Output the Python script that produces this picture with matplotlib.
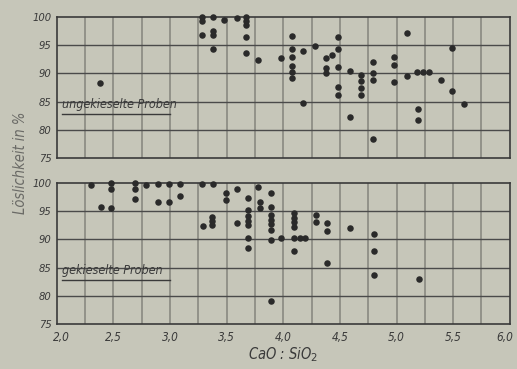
import matplotlib
matplotlib.use("Agg")
import matplotlib.pyplot as plt
import matplotlib.transforms as mtransforms

# ---- data: ungekieselte Proben (top panel) ----
top_x = [2.38, 3.28, 3.28, 3.28, 3.38, 3.38, 3.38, 3.38, 3.48, 3.59,
         3.67, 3.67, 3.67, 3.67, 3.67, 3.78, 3.98,
         4.08, 4.08, 4.08, 4.08, 4.08, 4.08, 4.17, 4.17, 4.28,
         4.48, 4.48, 4.43, 4.38, 4.38, 4.38, 4.48, 4.48, 4.48,
         4.59, 4.59, 4.69, 4.69, 4.69, 4.69, 4.79, 4.79, 4.79, 4.79,
         4.98, 4.98, 4.98, 5.09, 5.09, 5.18, 5.23, 5.29, 5.19, 5.19,
         5.39, 5.49, 5.49, 5.60]
top_y = [88.3, 100.0, 99.2, 96.8, 100.0, 97.5, 96.8, 94.3, 99.5, 99.8,
         100.0, 99.3, 98.6, 96.5, 93.6, 92.4, 92.7,
         96.6, 94.3, 92.9, 91.3, 90.3, 89.1, 94.0, 84.8, 94.8,
         96.5, 94.3, 93.3, 92.8, 91.0, 90.0, 91.2, 87.6, 86.2,
         90.5, 82.3, 89.7, 88.6, 87.4, 86.2, 92.1, 90.0, 88.9, 78.4,
         92.9, 91.5, 88.4, 97.2, 89.5, 90.3, 90.3, 90.3, 83.7, 81.7,
         88.8, 94.5, 86.8, 84.6]

# ---- data: gekieselte Proben (bottom panel) ----
bot_x = [2.30, 2.39, 2.48, 2.48, 2.48, 2.69, 2.69, 2.69, 2.79, 2.89, 2.89,
         2.99, 2.99, 3.09, 3.09, 3.28, 3.29, 3.38, 3.37, 3.37, 3.37,
         3.49, 3.49, 3.59, 3.59, 3.69, 3.69, 3.69, 3.69, 3.69, 3.69, 3.69,
         3.78, 3.79, 3.79, 3.89, 3.89, 3.89, 3.89, 3.89, 3.89, 3.89, 3.89,
         3.98, 4.09, 4.09, 4.09, 4.09, 4.09, 4.15, 4.19, 4.09,
         4.29, 4.29, 4.39, 4.39, 4.39, 4.59, 4.80, 4.80, 4.80, 5.20]
bot_y = [99.7, 95.8, 100.0, 99.0, 95.6, 100.0, 99.0, 97.1, 99.6, 99.8, 96.6,
         99.8, 96.7, 99.8, 97.7, 99.8, 92.4, 99.8, 94.0, 93.2, 92.5,
         98.2, 97.0, 98.9, 92.9, 97.3, 95.2, 94.2, 93.3, 92.5, 90.2, 88.4,
         99.3, 96.7, 95.5, 98.2, 95.7, 94.3, 93.5, 92.8, 91.7, 89.9, 79.1,
         90.3, 94.7, 93.8, 93.0, 92.2, 90.2, 90.2, 90.2, 88.0,
         94.3, 93.0, 92.9, 91.5, 85.9, 92.1, 91.0, 88.0, 83.6, 83.0]

x_ticks = [2.0, 2.5, 3.0, 3.5, 4.0, 4.5, 5.0, 5.5, 6.0]
x_tick_labels = ["2,0", "2,5", "3,0", "3,5", "4,0", "4,5", "5,0", "5,5", "6,0"]
y_ticks = [75, 80, 85, 90, 95, 100]
y_tick_labels = ["75", "80", "85", "90", "95", "100"]

BG = "#c6c6b9"
INK = "#3a3a3a"
font = dict(family="DejaVu Sans", style="italic", stretch="condensed")

fig = plt.figure(figsize=(5.17, 3.69), dpi=100, facecolor=BG)
ax_top = fig.add_axes([0.110, 0.572, 0.876, 0.382])
ax_bot = fig.add_axes([0.110, 0.122, 0.876, 0.382])

for ax, xs, ys, label in [(ax_top, top_x, top_y, "ungekieselte Proben"),
                          (ax_bot, bot_x, bot_y, "gekieselte Proben")]:
    ax.set_facecolor(BG)
    ax.set_xlim(2.0, 6.0)
    ax.set_ylim(75, 100)
    for v in [2.0 + 0.25 * i for i in range(1, 16)]:
        ax.axvline(v, color="#8e8e86", lw=1.3, zorder=1)
    for h in [80, 85, 90, 95]:
        ax.axhline(h, color="#4a4a4a", lw=1.0, zorder=1)
    ax.scatter(xs, ys, s=22, color="#2a2a2a", zorder=3, clip_on=False, linewidths=0)
    for sp in ax.spines.values():
        sp.set_color("#3a3a3a")
        sp.set_linewidth(1.2)
    ax.set_yticks(y_ticks)
    ax.set_yticklabels(y_tick_labels, fontsize=8, color=INK, **font)
    ax.set_xticks(x_ticks)
    ax.tick_params(axis="y", length=0, pad=4)
    ax.tick_params(axis="x", length=0, pad=5)
    ax.text(0.012, 0.33, label, transform=ax.transAxes, fontsize=9,
            color=INK, ha="left", va="bottom", **font)
    ax.plot([0.012, 0.25], [0.315, 0.315], transform=ax.transAxes,
            color=INK, lw=1.0, zorder=4)

ax_top.set_xticklabels([])
ax_bot.set_xticklabels(x_tick_labels, fontsize=8.5, color=INK, **font)
labels = ax_bot.get_xticklabels()
labels[0].set_transform(labels[0].get_transform() +
                        mtransforms.ScaledTranslation(5 / 100, 0, fig.dpi_scale_trans))
labels[-1].set_transform(labels[-1].get_transform() +
                         mtransforms.ScaledTranslation(-5 / 100, 0, fig.dpi_scale_trans))
ax_bot.set_xlabel("CaO : SiO$_2$", fontsize=10.5, color=INK, labelpad=1, **font)
fig.text(0.04, 0.56, "Löslichkeit in %", rotation=90, fontsize=10.5,
         color="#6a6a66", ha="center", va="center", **font)

fig.savefig("out.png", dpi=100, facecolor=BG)
